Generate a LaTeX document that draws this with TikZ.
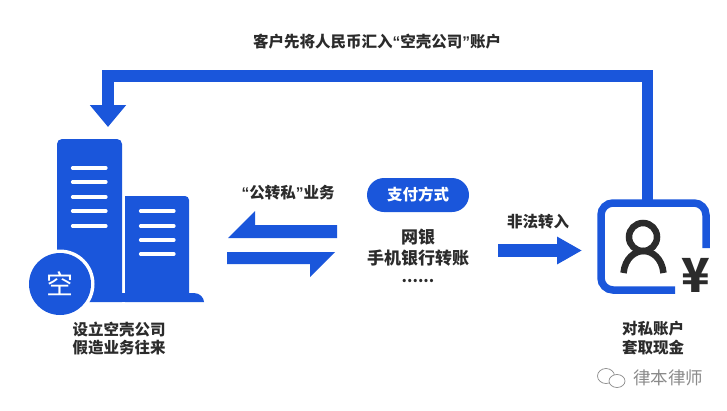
\documentclass[tikz,border=0pt]{standalone}
\usepackage{fontspec}
\setmainfont{Noto Sans CJK SC}
\newfontfamily\quofont{Liberation Sans}
\usetikzlibrary{arrows.meta}
\definecolor{flowblue}{HTML}{1A56DB}
\definecolor{inkdark}{HTML}{2B2B2B}
\definecolor{markgray}{HTML}{8A8A8A}
\newcommand{\openq}{{\quofont\bfseries “}}
\newcommand{\closeq}{{\quofont\bfseries ”}}
\tikzset{
  label15/.style={text=inkdark, font=\fontsize{15.5}{18}\selectfont\bfseries, inner sep=0pt},
  label17/.style={text=inkdark, font=\fontsize{17}{20}\selectfont\bfseries, inner sep=0pt},
  winline/.style={white, line width=3.2pt, line cap=round},
  flowbar/.style={draw=flowblue, line join=miter},
  flowfill/.style={fill=flowblue, draw=none}
}
\begin{document}
\begin{tikzpicture}[x=1pt,y=-1pt]
\useasboundingbox (0,0) rectangle (727,410);
% top arrow
\coordinate (cardtop) at (647.5,202);
\coordinate (towertip) at (108,127);
\draw[flowbar, line width=11.5pt, -{Triangle[length=22pt,width=35pt]}] (cardtop)--(647.5,76)--(108,76)--(towertip);
\node[label15] (toplabel) at (377,42) {客户先将人民币汇入\openq 空壳公司\closeq 账户};
% buildings
\fill[flowblue] (57,302)--(57,144) arc[start angle=180, end angle=270, radius=5]--(117,139) arc[start angle=270, end angle=360, radius=5]--(122,302)--cycle;
\fill[flowblue] (125,302)--(125,196)--(185,196) arc[start angle=270, end angle=360, radius=4]--(189,293)--(194,293) .. controls (200,293) and (204,298) .. (204,302)--cycle;
\fill[flowblue] (120,293) rectangle (127,302);
\foreach \y in {168,182,197,211,226}
  \draw[winline] (72.5,\y)--(106,\y);
\foreach \y in {211,226,240,254}
  \draw[winline] (140.5,\y)--(174,\y);
\fill[white] (60,284) circle[radius=34.5];
\node[circle, fill=flowblue, minimum size=62pt, inner sep=0pt, text=white, font=\fontsize{27}{30}\selectfont] (kong) at (60,284) {空};
\node[label15] (setup1) at (119,330) {设立空壳公司};
\node[label15] (setup2) at (119,348) {假造业务往来};
% two half arrows
\fill[flowfill] (228,238)--(255,211)--(255,225)--(337,225)--(337,238)--cycle;
\fill[flowfill] (227,252)--(335,252)--(310,277)--(310,264)--(227,264)--cycle;
\node[label15] (duigong) at (288,193) {\openq 公转私\closeq 业务};
% payment
\node[fill=flowblue, rounded corners=17pt, minimum width=102pt, minimum height=34pt, inner sep=0pt, text=white, font=\fontsize{15.5}{18}\selectfont\bfseries] (pay) at (418,195) {支付方式};
\node[label17] (wangyin) at (418,237) {网银};
\node[label17] (mobile) at (418,258) {手机银行转账};
\node[label15] (dots) at (418,281) {......};
% illegal transfer
\coordinate (illegalfrom) at (498,250.5);
\coordinate (illegalto) at (582,250.5);
\draw[flowbar, line width=13pt, -{Triangle[length=25pt,width=26pt]}] (illegalfrom)--(illegalto);
\node[label15] (illegal) at (538,222) {非法转入};
% account card
\draw[flowblue, line width=7.5pt, rounded corners=12pt] (706,248)--(706,203)--(601,203)--(601,290)--(675,290);
\draw[inkdark, line width=6.5pt] (643,237) circle[radius=14];
\draw[inkdark, line width=6.5pt] (623.5,273) .. controls (625,258) and (635,251) .. (643.5,251) .. controls (652,251) and (662,258) .. (663.5,273);
\node[text=inkdark, inner sep=0pt, font=\fontsize{47}{49}\selectfont\bfseries] (yen) at (696,275) {¥};
\node[label15] (cash1) at (653,329) {对私账户};
\node[label15] (cash2) at (653,348) {套取现金};
% watermark
\draw[markgray, line width=0.7pt, fill=white] (606,376) ellipse[x radius=8.5, y radius=7.5];
\draw[markgray, line width=0.7pt, fill=white] (617,381) ellipse[x radius=8, y radius=6.5];
\node[text=markgray, inner sep=0pt, font=\fontsize{17.5}{20}\selectfont] (mark) at (668,378) {律本律师};
\end{tikzpicture}
\end{document}
